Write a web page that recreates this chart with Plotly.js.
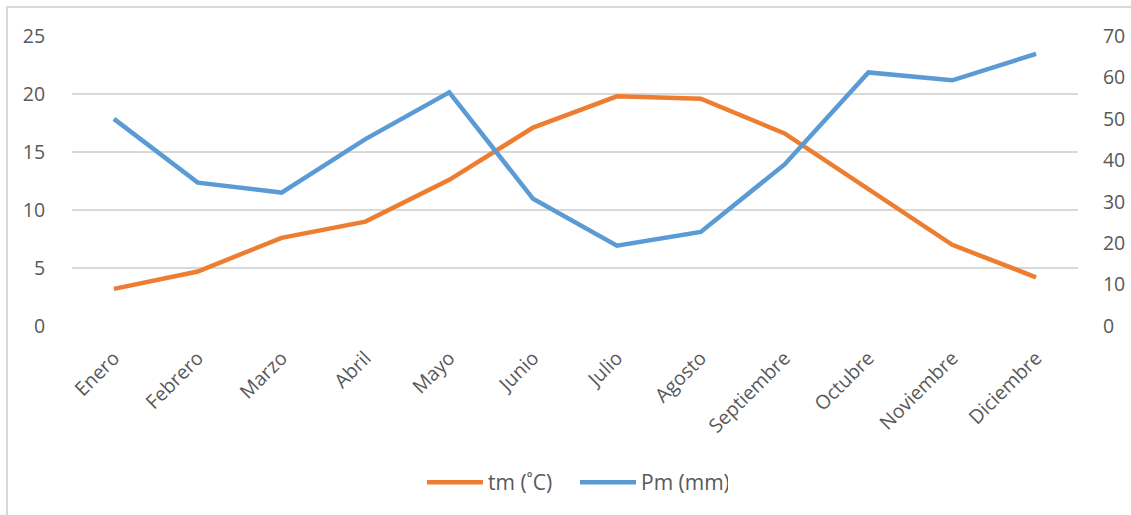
<!DOCTYPE html>
<html>
<head>
<meta charset="utf-8">
<script src="https://cdn.plot.ly/plotly-3.0.1.min.js"></script>
<style>
  html, body { margin: 0; padding: 0; background: #ffffff; overflow: hidden; }
  #chart { position: absolute; left: 0; top: 0; width: 1131px; height: 515px; }
  #frame { position: absolute; left: 6px; top: 6px; width: 1300px; height: 700px;
           border: 2px solid #d9d9d9; pointer-events: none; }
</style>
</head>
<body>
<div id="chart"></div>
<div id="frame"></div>
<script>
// Monthly climate data: mean temperature and mean precipitation
const months = ["Enero", "Febrero", "Marzo", "Abril", "Mayo", "Junio", "Julio",
                "Agosto", "Septiembre", "Octubre", "Noviembre", "Diciembre"];
const tempMean = [3.2, 4.7, 7.6, 9.0, 12.6, 17.1, 19.8, 19.6, 16.6, 11.8, 7.0, 4.2];
const precipMean = [50.0, 34.6, 32.2, 45.1, 56.4, 30.7, 19.4, 22.7, 39.0, 61.2, 59.3, 65.7];
const tempTicks = [0, 5, 10, 15, 20, 25];
const precipTicks = [0, 10, 20, 30, 40, 50, 60, 70];

const textColor = "#595959";
const gridColor = "#d9d9d9";
const baseFont = { family: "Open Sans, sans-serif", size: 19.5, color: textColor };
const legendFont = { family: "Open Sans, sans-serif", size: 21, color: textColor };

const traces = [
  {
    x: months, y: tempMean, name: "tm (˚C)", type: "scatter", mode: "lines",
    line: { color: "#ED7D31", width: 4.5 }, yaxis: "y"
  },
  {
    x: months, y: precipMean, name: "Pm (mm)", type: "scatter", mode: "lines",
    line: { color: "#5B9BD5", width: 4.5 }, yaxis: "y2"
  }
];

const layout = {
  width: 1131, height: 515,
  margin: { l: 72, r: 53, t: 36, b: 189, pad: 0 },
  paper_bgcolor: "#ffffff", plot_bgcolor: "#ffffff",
  font: baseFont,
  showlegend: true,
  legend: {
    orientation: "h", x: 0.5, xanchor: "center", y: -0.54, yanchor: "middle",
    font: legendFont, traceorder: "normal", itemwidth: 56,
    entrywidth: 82, entrywidthmode: "pixels"
  },
  xaxis: {
    type: "category", categoryarray: months, range: [-0.5, months.length - 0.5],
    tickangle: -45, showgrid: false, zeroline: false, showline: false,
    ticks: "outside", ticklen: 12, tickcolor: "rgba(0,0,0,0)",
    tickfont: baseFont, fixedrange: true
  },
  yaxis: {
    range: [0, 25], tickvals: tempTicks, ticktext: tempTicks.map(String),
    showgrid: true, gridcolor: gridColor, gridwidth: 1.5,
    zeroline: false, showline: false,
    ticks: "outside", ticklen: 22, tickcolor: "rgba(0,0,0,0)",
    tickfont: baseFont, fixedrange: true
  },
  yaxis2: {
    range: [0, 70], tickvals: precipTicks, ticktext: precipTicks.map(String),
    overlaying: "y", side: "right",
    showgrid: false, zeroline: false, showline: false,
    ticks: "outside", ticklen: 20, tickcolor: "rgba(0,0,0,0)",
    tickfont: baseFont, fixedrange: true
  },
  hovermode: false
};

Plotly.newPlot("chart", traces, layout, { displayModeBar: false, staticPlot: true });
</script>
</body>
</html>
